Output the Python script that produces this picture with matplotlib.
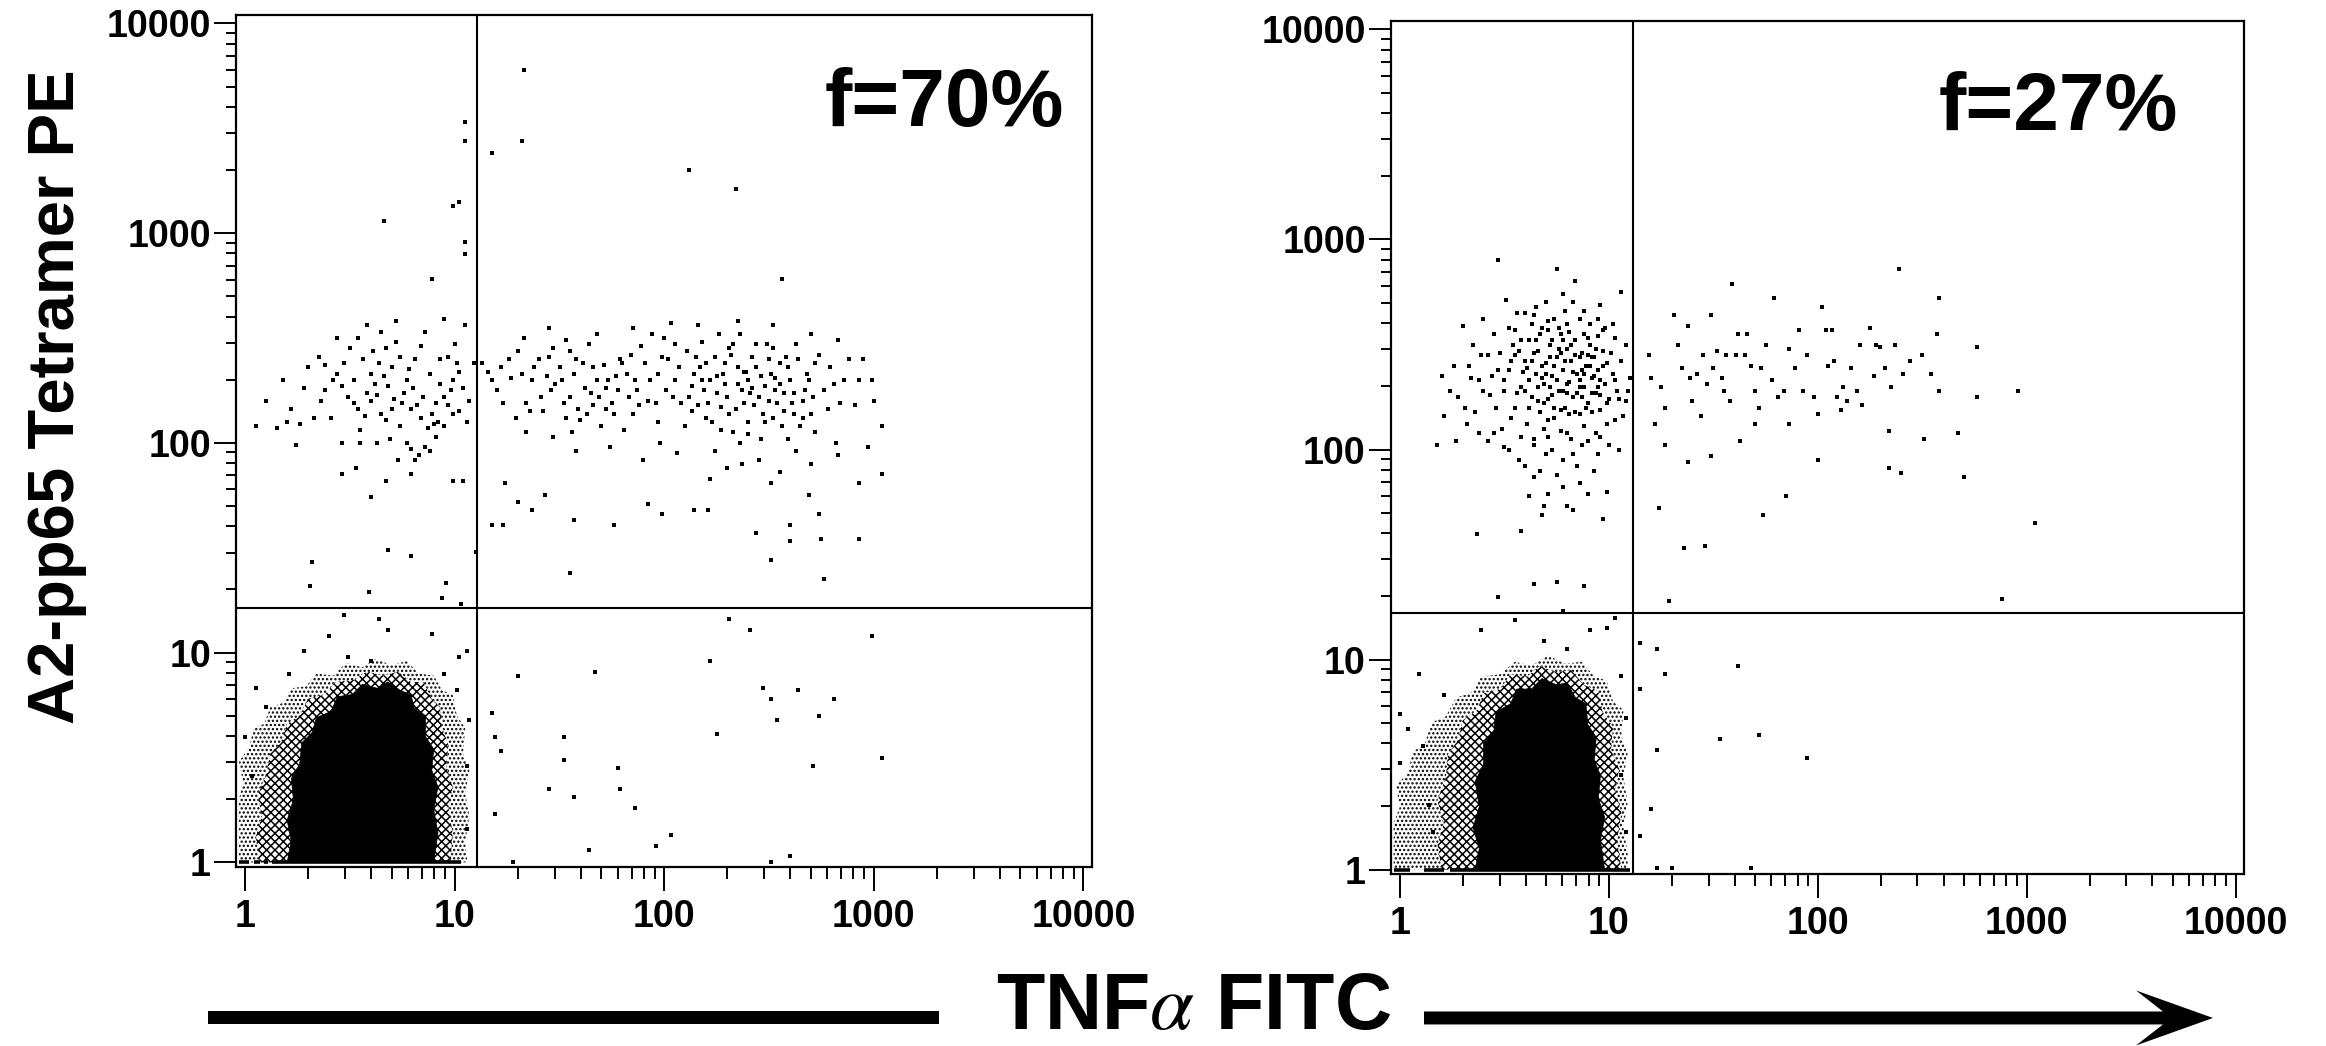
import numpy as np
import matplotlib
matplotlib.use("Agg")
import matplotlib.pyplot as plt
from matplotlib.patches import Polygon, Rectangle, FancyArrow
from matplotlib.ticker import LogLocator, NullFormatter

plt.rcParams['font.family'] = ['Liberation Sans', 'DejaVu Sans']
plt.rcParams['mathtext.fontset'] = 'stix'
plt.rcParams['hatch.linewidth'] = 1.1

# ---------------- data (log10 decades) ----------------
tick_vals = [1, 10, 100, 1000, 10000]
tick_labels = ["1", "10", "100", "1000", "10000"]
panel_labels = ["f=70%", "f=27%"]
gates_left = (12.8, 16.4)     # TNFa gate, tetramer gate
gates_right = (13.0, 16.6)

# Left panel: tetramer+ events (upper half)
left_upper = [
    (1.33, 3.78), (1.32, 3.44), (1.18, 3.38), (1.05, 3.53), (1.05, 3.44), (1.02, 3.15), (0.99, 3.13),
    (1.05, 2.96), (1.05, 2.90), (0.66, 3.06), (2.12, 3.30), (2.34, 3.21), (0.89, 2.78), (2.56, 2.78),
    (0.05, 2.08), (0.15, 2.07), (0.24, 1.99), (0.26, 2.09), (0.22, 2.16), (0.35, 2.41), (0.38, 2.37),
    (0.44, 2.33), (0.46, 2.27), (0.38, 2.25), (0.49, 2.22), (0.54, 2.16), (0.52, 2.19), (0.54, 2.50),
    (0.65, 2.53), (0.67, 2.45), (0.70, 2.36), (0.74, 2.41), (0.60, 2.33), (0.63, 2.23), (0.68, 2.27),
    (0.77, 2.30), (0.75, 2.19), (0.79, 2.16), (0.67, 2.11), (0.65, 2.14), (0.74, 2.08), (0.77, 2.00),
    (0.79, 1.97), (0.88, 1.96), (0.91, 2.03), (0.95, 2.08), (0.99, 2.14), (1.02, 2.15), (0.91, 2.19),
    (0.95, 2.22), (0.99, 2.30), (1.02, 2.34), (0.97, 2.41), (0.93, 2.40), (1.00, 2.47), (0.95, 2.59),
    (1.05, 2.56), (1.09, 2.38), (0.86, 2.53), (0.46, 2.00), (0.46, 1.85), (0.55, 2.00), (0.60, 1.74),
    (0.67, 1.82), (0.81, 1.92), (0.73, 1.92), (0.83, 1.94), (0.90, 2.09), (0.87, 2.07), (0.99, 1.82),
    (1.04, 1.82), (0.42, 2.30), (0.56, 2.40), (0.62, 2.28), (0.71, 2.21), (0.80, 2.26), (0.84, 2.12),
    (0.57, 2.13), (0.69, 2.02), (0.50, 2.45), (0.88, 2.33), (0.98, 2.25), (0.92, 2.10), (0.78, 2.35),
    (0.60, 2.20), (0.33, 2.12), (0.28, 2.26), (1.07, 2.20), (1.06, 2.10), (0.64, 2.38), (0.82, 2.18),
    (0.32, 1.43), (0.68, 1.49), (0.79, 1.46), (0.31, 1.32), (0.59, 1.29), (0.96, 1.33), (0.94, 1.26),
    (1.03, 1.23), (1.10, 1.48),
    (0.10, 2.20), (0.18, 2.30), (0.20, 2.10), (0.30, 2.36), (0.36, 2.20), (0.41, 2.12), (0.47, 2.38),
    (0.52, 2.30), (0.55, 2.06), (0.58, 2.24), (0.61, 2.44), (0.66, 2.32), (0.70, 2.16), (0.72, 2.48),
    (0.76, 2.24), (0.81, 2.40), (0.85, 2.22), (0.89, 2.14), (0.93, 2.28), (0.97, 2.18), (1.01, 2.38),
    (1.04, 2.26), (0.63, 2.00), (0.86, 1.98), (0.44, 2.50), (0.58, 2.56), (0.72, 2.58), (0.84, 2.46),
    (0.53, 1.88), (0.79, 1.85),
    (1.13, 2.38), (1.16, 2.34), (1.18, 2.30), (1.22, 2.36), (1.23, 2.19), (1.27, 2.31), (1.30, 2.44),
    (1.32, 2.33), (1.37, 2.30), (1.34, 2.19), (1.36, 2.15), (1.41, 2.22), (1.45, 2.41), (1.46, 2.25),
    (1.47, 2.03), (1.50, 2.36), (1.52, 2.19), (1.53, 2.49), (1.55, 2.44), (1.57, 2.33), (1.59, 2.16),
    (1.60, 2.11), (1.62, 2.26), (1.64, 2.47), (1.66, 2.36), (1.68, 2.30), (1.69, 2.22), (1.70, 2.08),
    (1.71, 2.37), (1.73, 2.30), (1.75, 2.19), (1.76, 2.14), (1.78, 2.25), (1.80, 2.38), (1.82, 2.33),
    (1.83, 2.22), (1.85, 2.14), (1.87, 2.25), (1.91, 2.38), (1.94, 2.52), (1.96, 2.19), (1.98, 2.00),
    (1.99, 2.41), (2.01, 2.25), (2.03, 2.57), (2.05, 2.47), (2.05, 2.30), (2.08, 2.19), (2.10, 2.08),
    (2.12, 2.22), (2.14, 2.33), (2.15, 2.41), (2.17, 2.36), (2.19, 2.25), (2.21, 2.19), (2.22, 2.30),
    (2.24, 2.41), (2.26, 2.52), (2.28, 2.33), (2.30, 2.22), (2.31, 2.14), (2.33, 2.47), (2.35, 2.36),
    (2.37, 2.25), (2.38, 2.19), (2.40, 2.30), (2.42, 2.41), (2.44, 2.36), (2.45, 2.22), (2.47, 2.14),
    (2.49, 2.47), (2.51, 2.33), (2.53, 2.25), (2.54, 2.19), (2.56, 2.08), (2.58, 2.41), (2.60, 2.30),
    (2.61, 2.19), (2.63, 2.47), (2.65, 2.08), (2.67, 2.25), (2.68, 2.33), (2.70, 2.14), (2.72, 2.38),
    (2.76, 2.25), (2.79, 2.36), (2.83, 2.49), (2.84, 2.19), (2.86, 2.30), (2.93, 2.30), (2.97, 1.98),
    (2.99, 2.30), (3.04, 2.08), (3.04, 1.85), (2.93, 1.81), (2.83, 1.94),
    (1.24, 1.81), (1.30, 1.72), (1.37, 1.68), (1.43, 1.75), (1.18, 1.61), (1.23, 1.61), (1.57, 1.63),
    (1.55, 1.38), (1.76, 1.61), (1.92, 1.71), (1.99, 1.66), (2.14, 1.68), (2.21, 1.68), (2.22, 1.83),
    (2.37, 1.90), (2.51, 1.81), (2.44, 1.57), (2.51, 1.44), (2.60, 1.53), (2.60, 1.61), (2.69, 1.75),
    (2.74, 1.66), (2.75, 1.54), (2.76, 1.35), (2.93, 1.54),
    (2.20, 2.12), (2.27, 2.17), (2.33, 2.05), (2.40, 2.10), (2.46, 2.02), (2.52, 2.12), (2.57, 2.24),
    (2.35, 2.28), (2.29, 2.38), (2.48, 2.27), (2.55, 2.38), (2.62, 2.14), (2.43, 2.18), (2.25, 2.24),
    (2.39, 2.34), (2.31, 2.45), (2.50, 2.40), (2.66, 2.20), (2.18, 2.30), (2.36, 2.00), (2.59, 2.02),
    (2.72, 2.05), (2.13, 2.15), (2.41, 2.24), (2.53, 2.31),
    (1.48, 2.28), (1.55, 2.22), (1.63, 2.14), (1.58, 2.40), (1.66, 2.18), (1.72, 2.26), (1.53, 2.12),
    (1.44, 2.32), (1.40, 2.40), (1.86, 2.30), (1.92, 2.20), (1.97, 2.33), (1.79, 2.40), (1.89, 2.46),
    (2.02, 2.40),
    (1.20, 2.25), (1.26, 2.40), (1.29, 2.12), (1.33, 2.50), (1.38, 2.36), (1.42, 2.15), (1.47, 2.45),
    (1.51, 2.30), (1.56, 2.05), (1.61, 2.38), (1.65, 2.24), (1.68, 2.52), (1.72, 2.16), (1.77, 2.32),
    (1.81, 2.06), (1.84, 2.42), (1.88, 2.18), (1.93, 2.30), (1.97, 2.10), (2.00, 2.50), (2.04, 2.22),
    (2.07, 2.36), (2.11, 2.44), (2.13, 2.27), (2.16, 2.18), (2.18, 2.48), (2.20, 2.38), (2.23, 2.10),
    (2.25, 2.32), (2.27, 2.06), (2.29, 2.28), (2.32, 2.42), (2.34, 2.16), (2.36, 2.52), (2.38, 2.34),
    (2.40, 2.04), (2.42, 2.26), (2.44, 2.47), (2.46, 2.32), (2.48, 2.10), (2.50, 2.20), (2.52, 2.45),
    (2.55, 2.28), (2.57, 2.15), (2.59, 2.36), (2.62, 2.24), (2.64, 2.40), (2.66, 2.12), (2.69, 2.30),
    (2.71, 2.22), (2.74, 2.42), (2.78, 2.16), (2.81, 2.28), (2.88, 2.40), (2.91, 2.18), (2.95, 2.40),
    (3.00, 2.20), (2.24, 1.96), (2.45, 1.92), (2.63, 1.96), (2.82, 2.00), (2.55, 1.86), (2.30, 1.88),
    (2.70, 1.90), (1.34, 2.05), (1.58, 1.96), (1.74, 1.98), (1.90, 1.92), (2.06, 1.95), (2.16, 2.56),
    (2.35, 2.58), (2.52, 2.56), (2.70, 2.52), (1.85, 2.55), (1.45, 2.55),
]
# Left panel: tetramer- events outside the main blob
left_lower = [
    (2.31, 1.16), (2.41, 1.11), (2.22, 0.96), (2.99, 1.08), (1.30, 0.89), (1.67, 0.91), (2.47, 0.83),
    (2.51, 0.78), (2.54, 0.68), (2.64, 0.82), (2.81, 0.78), (2.74, 0.70), (3.04, 0.50), (2.71, 0.46),
    (2.25, 0.61), (1.18, 0.71), (1.19, 0.60), (1.22, 0.53), (1.52, 0.60), (1.52, 0.49), (1.78, 0.45),
    (1.79, 0.35), (1.45, 0.35), (1.57, 0.31), (1.86, 0.26), (1.19, 0.23), (2.03, 0.13), (1.96, 0.08),
    (1.64, 0.06), (1.28, 0.00), (2.51, 0.00), (2.60, 0.03),
    (0.47, 1.18), (0.64, 1.16), (0.40, 1.08), (0.49, 0.98), (0.68, 1.11), (0.89, 1.09), (1.02, 0.98),
    (1.06, 1.01), (0.28, 1.01), (0.60, 0.96), (0.05, 0.83), (0.10, 0.74), (0.00, 0.60), (0.03, 0.41),
    (0.21, 0.90), (0.95, 0.90), (1.01, 0.82), (1.07, 0.68), (1.06, 0.46), (1.06, 0.16),
]
# Right panel: tetramer+ events
right_upper = [
    (1.19, 2.45), (1.20, 2.34), (1.22, 2.12), (1.27, 2.20), (1.31, 2.64), (1.35, 2.39), (1.38, 2.59),
    (1.39, 2.34), (1.40, 2.23), (1.45, 2.45), (1.47, 2.31), (1.49, 2.64), (1.50, 2.39), (1.52, 2.47),
    (1.54, 2.34), (1.56, 2.45), (1.58, 2.23), (1.59, 2.79), (1.61, 2.45), (1.63, 2.04), (1.65, 2.45),
    (1.66, 2.55), (1.70, 2.28), (1.72, 2.20), (1.73, 2.39), (1.75, 2.50), (1.79, 2.72), (1.81, 2.25),
    (1.84, 2.28), (1.86, 2.12), (1.89, 2.39), (1.91, 2.57), (1.95, 2.45), (1.98, 2.25), (2.00, 2.17),
    (2.02, 2.68), (2.04, 2.57), (2.05, 2.40), (2.07, 2.57), (2.09, 2.25), (2.11, 2.19), (2.14, 2.23),
    (2.16, 2.39), (2.19, 2.28), (2.21, 2.21), (2.25, 2.58), (2.27, 2.35), (2.28, 2.50), (2.30, 2.49),
    (2.32, 2.39), (2.34, 2.09), (2.37, 2.50), (2.39, 2.86), (2.41, 2.36), (2.50, 2.45), (2.51, 2.05),
    (2.57, 2.55), (2.58, 2.72), (2.58, 2.28), (2.67, 2.08), (2.76, 2.49), (2.76, 2.25), (2.96, 2.28),
    (1.27, 2.02), (1.38, 1.94), (1.49, 1.97), (1.24, 1.72), (1.36, 1.53), (1.46, 1.54), (1.74, 1.69),
    (1.85, 1.78), (2.00, 1.95), (2.34, 1.91), (2.40, 1.89), (2.70, 1.87), (3.04, 1.65), (1.29, 1.28),
    (2.88, 1.29),
    (1.25, 2.30), (1.33, 2.50), (1.42, 2.36), (1.55, 2.28), (1.62, 2.55), (1.68, 2.40), (1.78, 2.33),
    (1.86, 2.48), (1.93, 2.28), (2.08, 2.42), (2.20, 2.50), (2.35, 2.30), (2.44, 2.42), (2.54, 2.36),
    (1.44, 2.16), (1.70, 2.12), (2.12, 2.30),
    (0.47, 2.90), (0.75, 2.86), (0.84, 2.80), (0.51, 2.71), (0.56, 2.65), (0.64, 2.64), (0.71, 2.61),
    (0.80, 2.60), (0.88, 2.55), (0.96, 2.69), (0.97, 2.57), (1.03, 2.53), (1.06, 2.75), (0.30, 2.59),
    (0.39, 2.45), (0.34, 2.34), (0.28, 2.25), (0.21, 2.16), (0.32, 2.12), (0.18, 2.02), (0.27, 2.04),
    (0.42, 2.04), (0.50, 2.01), (0.57, 1.95), (0.64, 2.02), (0.71, 2.06), (0.78, 1.95), (0.83, 1.98),
    (0.90, 2.04), (0.96, 2.06), (0.99, 2.12), (1.03, 2.14), (1.08, 2.23), (1.10, 2.34), (1.08, 2.50),
    (0.64, 1.87), (0.71, 1.79), (0.78, 1.82), (0.80, 1.73), (0.90, 1.79), (0.99, 1.80), (0.69, 1.73),
    (0.68, 1.69), (0.58, 1.61), (0.37, 1.60), (0.97, 1.67), (0.83, 1.71),
    (0.55, 2.20), (0.58, 2.30), (0.60, 2.42), (0.62, 2.52), (0.63, 2.25), (0.65, 2.36), (0.66, 2.47),
    (0.67, 2.18), (0.68, 2.58), (0.69, 2.31), (0.70, 2.41), (0.71, 2.24), (0.72, 2.50), (0.73, 2.35),
    (0.74, 2.15), (0.75, 2.44), (0.76, 2.28), (0.77, 2.55), (0.78, 2.38), (0.79, 2.20), (0.80, 2.48),
    (0.81, 2.32), (0.82, 2.42), (0.83, 2.25), (0.84, 2.52), (0.85, 2.36), (0.86, 2.17), (0.87, 2.46),
    (0.88, 2.30), (0.89, 2.40), (0.90, 2.22), (0.91, 2.50), (0.92, 2.34), (0.93, 2.44), (0.94, 2.27),
    (0.95, 2.38), (0.96, 2.19), (0.97, 2.47), (0.98, 2.31), (0.99, 2.41), (1.00, 2.24), (1.02, 2.36),
    (1.04, 2.28), (0.57, 2.47), (0.61, 2.12), (0.64, 2.05), (0.69, 2.10), (0.74, 2.62), (0.79, 2.66),
    (0.86, 2.62), (0.91, 2.60), (0.52, 2.38), (0.50, 2.28), (0.48, 2.46), (0.53, 2.15), (0.46, 2.20),
    (0.44, 2.35), (0.88, 2.11), (0.94, 2.08), (0.77, 2.09), (0.82, 2.05), (0.70, 1.98), (0.85, 1.92),
    (0.60, 1.92), (0.75, 1.88), (0.93, 1.90), (1.05, 2.00), (1.06, 2.42), (0.40, 2.28), (0.36, 2.18),
    (0.45, 2.55), (0.55, 2.57), (0.65, 2.68), (0.83, 2.70), (0.98, 2.58), (0.72, 2.30), (0.80, 2.27),
    (0.86, 2.33), (0.76, 2.48), (0.68, 2.40), (0.90, 2.45), (0.62, 2.33), (0.84, 2.45), (0.74, 2.20),
    (0.96, 2.33), (0.66, 2.23), (0.78, 2.52), (0.87, 2.25), (0.59, 2.37), (0.92, 2.18), (0.71, 2.57),
    (0.81, 2.17), (0.95, 2.54), (0.63, 2.60), (0.54, 2.50), (0.49, 2.10), (0.42, 2.45), (0.38, 2.08),
    (0.33, 2.40), (0.64, 1.36), (0.75, 1.37), (0.88, 1.35), (0.47, 1.30), (0.78, 1.23),
    (0.50, 2.33), (0.53, 2.42), (0.56, 2.27), (0.58, 2.52), (0.61, 2.39), (0.62, 2.20), (0.64, 2.46),
    (0.66, 2.30), (0.67, 2.55), (0.69, 2.22), (0.70, 2.36), (0.72, 2.44), (0.73, 2.26), (0.75, 2.33),
    (0.76, 2.58), (0.77, 2.19), (0.79, 2.42), (0.80, 2.31), (0.82, 2.50), (0.83, 2.37), (0.85, 2.27),
    (0.86, 2.44), (0.88, 2.36), (0.89, 2.20), (0.91, 2.40), (0.92, 2.27), (0.94, 2.48), (0.95, 2.30),
    (0.97, 2.40), (0.99, 2.22), (1.01, 2.46), (1.03, 2.33), (1.05, 2.24), (0.60, 2.28), (0.65, 2.52),
    (0.71, 2.14), (0.74, 2.40), (0.78, 2.28), (0.81, 2.56), (0.84, 2.18), (0.87, 2.38), (0.90, 2.53),
    (0.93, 2.35), (0.96, 2.26), (0.68, 2.34), (0.63, 2.42), (0.77, 2.46), (0.86, 2.30), (0.73, 2.52),
    (0.92, 2.44), (0.55, 2.45), (0.47, 2.38), (0.43, 2.26), (0.38, 2.33), (0.35, 2.50), (0.31, 2.20),
    (0.26, 2.40), (0.24, 2.28), (0.20, 2.35), (0.45, 2.08), (0.52, 2.00), (0.58, 2.06), (0.67, 1.90),
    (0.73, 2.00), (0.80, 2.08), (0.87, 2.02), (0.95, 1.98), (1.00, 2.02), (1.07, 2.16), (1.09, 2.28),
    (0.60, 2.65), (0.70, 2.70), (0.78, 2.74), (0.88, 2.66), (0.95, 2.62), (1.02, 2.60), (0.52, 2.58),
    (0.40, 2.62), (0.62, 1.78), (0.86, 1.84),
]
right_lower = [
    (1.15, 1.08), (1.23, 1.05), (1.27, 0.93), (1.62, 0.97), (1.53, 0.62), (1.72, 0.64), (1.95, 0.53),
    (1.15, 0.86), (1.23, 0.57), (1.20, 0.29), (1.15, 0.16), (1.23, 0.01), (1.30, 0.01), (1.68, 0.01),
    (0.09, 0.93), (0.39, 1.14), (0.55, 1.19), (0.69, 1.09), (0.80, 1.05), (0.99, 1.15), (0.91, 1.14),
    (1.03, 1.20), (0.00, 0.74), (0.04, 0.67), (0.11, 0.59), (0.00, 0.51), (0.14, 0.31), (0.21, 0.83),
    (0.16, 0.18), (1.06, 0.92), (1.08, 0.72), (1.06, 0.45), (1.08, 0.18),
]
# Dense tetramer- population: saturated core and speckled halos (outlines, log10 decades)
left_core = [(0.20, 0.0), (0.22, 0.10), (0.20, 0.20), (0.23, 0.30), (0.22, 0.40), (0.26, 0.47),
             (0.27, 0.57), (0.32, 0.62), (0.34, 0.69), (0.41, 0.72), (0.44, 0.79), (0.51, 0.80),
             (0.56, 0.85), (0.63, 0.83), (0.68, 0.86), (0.74, 0.82), (0.79, 0.80), (0.81, 0.73),
             (0.86, 0.70), (0.86, 0.60), (0.90, 0.54), (0.89, 0.44), (0.92, 0.36), (0.90, 0.25),
             (0.92, 0.14), (0.90, 0.0)]
left_halo_in = [(0.07, 0.0), (0.05, 0.12), (0.08, 0.22), (0.06, 0.32), (0.10, 0.42), (0.12, 0.52),
                (0.17, 0.57), (0.20, 0.66), (0.26, 0.70), (0.30, 0.78), (0.38, 0.80), (0.43, 0.86),
                (0.52, 0.87), (0.58, 0.91), (0.66, 0.89), (0.73, 0.91), (0.79, 0.86), (0.85, 0.86),
                (0.89, 0.78), (0.93, 0.74), (0.94, 0.64), (0.97, 0.56), (0.96, 0.46), (0.99, 0.36),
                (0.97, 0.26), (0.99, 0.14), (0.98, 0.0)]
left_halo_out = [(-0.03, 0.0), (-0.03, 0.30), (-0.01, 0.38), (-0.03, 0.48), (0.02, 0.55), (0.04, 0.64),
                 (0.09, 0.66), (0.12, 0.74), (0.18, 0.76), (0.22, 0.83), (0.29, 0.84), (0.34, 0.90),
                 (0.42, 0.89), (0.48, 0.95), (0.56, 0.93), (0.62, 0.97), (0.70, 0.94), (0.77, 0.96),
                 (0.83, 0.90), (0.90, 0.89), (0.94, 0.82), (0.99, 0.80), (1.01, 0.70), (1.05, 0.64),
                 (1.04, 0.52), (1.07, 0.44), (1.05, 0.33), (1.07, 0.22), (1.05, 0.10), (1.06, 0.0)]
right_core = [(0.36, 0.0), (0.38, 0.10), (0.35, 0.20), (0.38, 0.30), (0.36, 0.42), (0.40, 0.50),
              (0.40, 0.60), (0.45, 0.66), (0.46, 0.75), (0.53, 0.79), (0.56, 0.86), (0.63, 0.86),
              (0.68, 0.91), (0.75, 0.88), (0.80, 0.89), (0.84, 0.82), (0.89, 0.79), (0.90, 0.69),
              (0.94, 0.63), (0.93, 0.52), (0.96, 0.45), (0.95, 0.34), (0.98, 0.25), (0.96, 0.14),
              (0.98, 0.0)]
right_halo_in = [(0.20, 0.0), (0.18, 0.12), (0.21, 0.22), (0.18, 0.33), (0.22, 0.44), (0.23, 0.55),
                 (0.28, 0.62), (0.30, 0.71), (0.37, 0.76), (0.40, 0.84), (0.48, 0.86), (0.53, 0.93),
                 (0.61, 0.92), (0.67, 0.97), (0.75, 0.94), (0.82, 0.95), (0.88, 0.88), (0.95, 0.85),
                 (0.97, 0.75), (1.02, 0.68), (1.01, 0.57), (1.05, 0.48), (1.03, 0.38), (1.06, 0.27),
                 (1.04, 0.14), (1.06, 0.0)]
right_halo_out = [(-0.03, 0.0), (-0.03, 0.22), (0.00, 0.30), (-0.02, 0.40), (0.04, 0.46), (0.06, 0.56),
                  (0.12, 0.60), (0.15, 0.70), (0.22, 0.73), (0.27, 0.82), (0.34, 0.84), (0.39, 0.92),
                  (0.48, 0.93), (0.55, 0.99), (0.63, 0.97), (0.71, 1.02), (0.79, 0.98), (0.87, 0.99),
                  (0.93, 0.92), (0.99, 0.90), (1.02, 0.80), (1.07, 0.76), (1.06, 0.64), (1.09, 0.55),
                  (1.07, 0.44), (1.09, 0.32), (1.07, 0.20), (1.09, 0.08), (1.09, 0.0)]
# off-scale-low events piled on the y = 1 channel (x ranges, log10 decades)
left_floor = [(-0.03, 0.02), (0.04, 0.07), (0.09, 0.11), (0.13, 1.03)]
right_floor = [(-0.03, 0.05), (0.115, 0.21), (0.24, 1.10)]

# ---------------- drawing ----------------
fig = plt.figure(figsize=(23.26, 10.46), dpi=100)
axL = fig.add_axes([0.10146, 0.17113, 0.36789, 0.81453])
axR = fig.add_axes([0.59789, 0.16415, 0.36685, 0.81577])

panels = [
    (axL, left_upper, left_lower, left_core, left_halo_in, left_halo_out, left_floor, gates_left,
     panel_labels[0], (0.9676, 0.8697)),
    (axR, right_upper, right_lower, right_core, right_halo_in, right_halo_out, right_floor, gates_right,
     panel_labels[1], (0.9227, 0.8717)),
]

for ax, upper, lower, core, hin, hout, floor, gates, lab, labpos in panels:
    ax.set_xscale('log')
    ax.set_yscale('log')
    ax.set_xlim(10 ** -0.044, 10 ** 4.04)
    ax.set_ylim(10 ** -0.022, 10 ** 4.04)

    def poly(pts, **kw):
        arr = 10 ** np.array(pts)
        ax.add_patch(Polygon(arr, closed=True, **kw))

    poly(hout, facecolor='none', edgecolor='k', hatch='....', linewidth=0, zorder=1)
    poly(hin, facecolor='white', edgecolor='k', hatch='xxxx', linewidth=0, zorder=1.5)
    poly(core, facecolor='k', edgecolor='k', linewidth=0.5, zorder=2)

    for x0, x1 in floor:
        ax.hlines(1.0, 10 ** x0, 10 ** x1, color='k', linewidth=2.6, zorder=2)

    for pts in (upper, lower):
        a = np.array(pts)
        ax.scatter(10 ** a[:, 0], 10 ** a[:, 1], s=10, marker='s', c='k', linewidths=0, zorder=3)

    ax.axvline(gates[0], color='k', linewidth=1.5, zorder=4)
    ax.axhline(gates[1], color='k', linewidth=1.5, zorder=4)

    for sp in ax.spines.values():
        sp.set_linewidth(1.6)

    ax.set_xticks(tick_vals, tick_labels)
    ax.set_yticks(tick_vals, tick_labels)
    ax.xaxis.set_minor_locator(LogLocator(base=10, subs=np.arange(2, 10), numticks=20))
    ax.yaxis.set_minor_locator(LogLocator(base=10, subs=np.arange(2, 10), numticks=20))
    ax.xaxis.set_minor_formatter(NullFormatter())
    ax.yaxis.set_minor_formatter(NullFormatter())
    ax.tick_params(axis='x', which='major', direction='out', length=17, width=1.4, pad=6,
                   labelsize=27)
    ax.tick_params(axis='x', which='minor', direction='out', length=8.5, width=1.4)
    ax.tick_params(axis='y', which='major', direction='out', length=16, width=1.4, pad=2,
                   labelsize=27)
    ax.tick_params(axis='y', which='minor', direction='out', length=7.5, width=1.4)
    for t in ax.get_xticklabels() + ax.get_yticklabels():
        t.set_fontweight('bold')

    ax.text(labpos[0], labpos[1], lab, transform=ax.transAxes, ha='right', va='baseline',
            fontsize=59, fontweight='bold')

fig.text(0.0245, 0.6205, "A2-pp65 Tetramer PE", rotation=90, ha='center', va='center',
         fontsize=47, fontweight='bold')
fig.text(0.5131, 0.016, r"TNF$\alpha$ FITC", ha='center', va='baseline',
         fontsize=57, fontweight='bold')

# axis arrow
fig.add_artist(Rectangle((207.7 / 2326, 0.0268 - 0.0062), (939 - 207.7) / 2326, 0.0124,
                         transform=fig.transFigure, facecolor='k', edgecolor='none'))
fig.add_artist(FancyArrow(1424 / 2326, 0.0268, (2213 - 1424) / 2326, 0.0, width=0.0124,
                          head_width=0.0526, head_length=0.0331, overhang=0.35,
                          length_includes_head=True, transform=fig.transFigure,
                          facecolor='k', edgecolor='none'))

fig.savefig("out.png", dpi=100)
